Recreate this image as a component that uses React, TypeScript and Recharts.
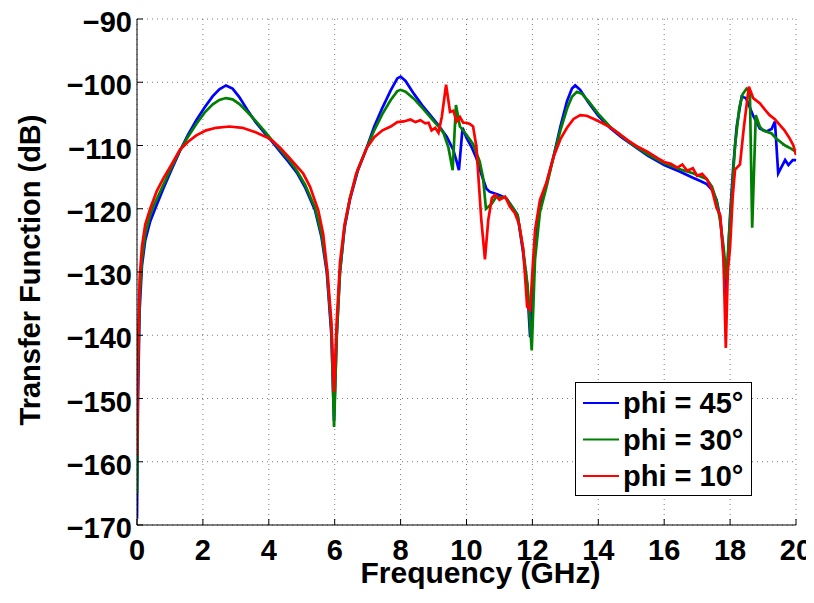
import React from 'react';
import { LineChart, Line, XAxis, YAxis, CartesianGrid, Legend } from 'recharts';

const FONT = '"Liberation Sans", Arial, Helvetica, sans-serif';

const xTicks = [0, 2, 4, 6, 8, 10, 12, 14, 16, 18, 20];
const yTicks = [-170, -160, -150, -140, -130, -120, -110, -100, -90];

const seriesNames = ['phi = 45°', 'phi = 30°', 'phi = 10°'];
const seriesColors = ['#0000ff', '#008000', '#ff0000'];

const blueF = [0, 0.03, 0.08, 0.15, 0.25, 0.4, 0.55, 0.8, 1.05, 1.3, 1.55, 1.8, 2.05, 2.3, 2.5, 2.7, 2.9, 3.1, 3.35, 3.6, 3.85, 4.1, 4.35, 4.6, 4.85, 5.1, 5.4, 5.6, 5.76, 5.9, 5.98, 6.06, 6.16, 6.3, 6.46, 6.7, 6.97, 7.2, 7.45, 7.7, 7.9, 8.0, 8.15, 8.4, 8.65, 8.9, 9.15, 9.4, 9.6, 9.7, 9.77, 9.88, 10.0, 10.15, 10.3, 10.45, 10.6, 10.7, 10.97, 11.2, 11.4, 11.55, 11.72, 11.84, 11.93, 12.0, 12.08, 12.23, 12.43, 12.64, 12.85, 13.05, 13.2, 13.3, 13.45, 13.7, 14.0, 14.35, 14.7, 15.0, 15.5, 16.0, 16.5, 16.87, 17.1, 17.29, 17.45, 17.59, 17.7, 17.8, 17.87, 17.93, 18.0, 18.1, 18.2, 18.35, 18.48, 18.6, 18.7, 18.9, 19.1, 19.26, 19.36, 19.46, 19.55, 19.67, 19.77, 19.9, 20.0];
const blueV = [-169, -150, -136, -129, -125, -122, -120, -116.8, -113.8, -110.9, -108.3, -106, -104, -102.2, -101.1, -100.5, -101, -102.3, -104.4, -106.3, -107.9, -109.4, -111, -112.6, -114.3, -116.6, -120.2, -124.5, -130, -140, -153.5, -140, -130, -123, -118.6, -114, -110.4, -107, -104, -101.3, -99.4, -99.1, -99.8, -101.8, -103.6, -105.2, -106.8, -108.6, -110.7, -112.5, -113.9, -107.2, -108.8, -110.2, -112, -114.5, -116.8, -117.3, -117.8, -118.3, -119.8, -121, -127, -132, -140.3, -134, -125, -119.5, -116, -111.8, -107, -103, -101, -100.5, -101.2, -103.2, -105.3, -107.2, -108.7, -109.8, -111.6, -113.1, -114.2, -115.1, -115.6, -116.1, -117, -118.6, -121.5, -127, -134.7, -128, -121, -113, -107, -102.3, -102.5, -104, -105.3, -107.3, -107.8, -107.4, -106.2, -114.4, -113.5, -112.3, -113.1, -112.3, -112.3];

const greenF = [0, 0.03, 0.08, 0.15, 0.25, 0.4, 0.5, 0.8, 1.05, 1.3, 1.55, 1.8, 2.05, 2.3, 2.5, 2.7, 2.9, 3.1, 3.35, 3.6, 3.85, 4.1, 4.35, 4.6, 4.85, 5.1, 5.4, 5.6, 5.76, 5.9, 5.98, 6.06, 6.16, 6.3, 6.46, 6.7, 6.97, 7.2, 7.45, 7.7, 7.9, 8.0, 8.15, 8.4, 8.65, 8.9, 9.15, 9.3, 9.45, 9.58, 9.68, 9.8, 10.0, 10.2, 10.4, 10.5, 10.59, 10.77, 10.9, 11.2, 11.4, 11.55, 11.72, 11.85, 11.98, 12.08, 12.23, 12.43, 12.64, 12.85, 13.05, 13.2, 13.35, 13.5, 13.7, 14.0, 14.35, 14.7, 15.0, 15.5, 16.0, 16.5, 16.87, 17.1, 17.29, 17.45, 17.59, 17.7, 17.8, 17.9, 17.97, 18.05, 18.15, 18.28, 18.38, 18.5, 18.6, 18.67, 18.78, 18.9, 19.0, 19.26, 19.4, 19.67, 19.85, 20.0];
const greenV = [-165, -146, -134, -128, -124, -121, -119.6, -116.2, -113.4, -110.8, -108.6, -106.6, -104.8, -103.5, -102.8, -102.5, -102.7, -103.4, -104.7, -106.1, -107.6, -109.2, -110.7, -112.2, -114, -116.2, -119.8, -124, -129.5, -139, -154.5, -140.5, -130, -122.8, -118.3, -113.8, -110.4, -107.6, -105, -102.8, -101.4, -101.2, -101.5, -102.6, -104, -105.5, -107, -108, -110.3, -113.9, -103.6, -107, -108.3, -109.8, -112.5, -115, -120, -119.2, -118.1, -118.3, -119.8, -121, -126.5, -132, -142.4, -128, -120.5, -116.5, -111.8, -107.6, -104.2, -102.3, -101.5, -101.8, -103, -105, -107, -108.5, -109.7, -111.4, -112.8, -113.8, -114.4, -114.9, -115.3, -116.5, -118.8, -122, -126, -131.3, -124, -118, -110, -104, -101.9, -101, -101.4, -123, -105.2, -107, -107.6, -108.1, -108.9, -110, -110.5, -111];

const redF = [0, 0.03, 0.08, 0.15, 0.25, 0.4, 0.6, 0.8, 1.05, 1.3, 1.55, 1.8, 2.1, 2.4, 2.8, 3.2, 3.6, 3.9, 4.1, 4.35, 4.6, 4.8, 5.04, 5.25, 5.5, 5.65, 5.78, 5.9, 5.98, 6.06, 6.16, 6.3, 6.45, 6.65, 6.97, 7.2, 7.45, 7.7, 7.9, 8.1, 8.3, 8.45, 8.6, 8.75, 8.85, 8.94, 9.05, 9.15, 9.25, 9.38, 9.5, 9.6, 9.7, 9.8, 9.9, 10.0, 10.1, 10.2, 10.3, 10.45, 10.56, 10.66, 10.77, 10.87, 11.0, 11.17, 11.32, 11.47, 11.6, 11.72, 11.84, 11.93, 12.0, 12.08, 12.23, 12.43, 12.64, 12.85, 13.05, 13.25, 13.45, 13.65, 13.9, 14.1, 14.35, 14.6, 14.9, 15.2, 15.5, 15.8, 16.0, 16.2, 16.4, 16.55, 16.7, 16.87, 17.0, 17.15, 17.29, 17.45, 17.59, 17.7, 17.8, 17.87, 17.93, 18.0, 18.08, 18.15, 18.3, 18.42, 18.57, 18.7, 18.9, 19.05, 19.2, 19.35, 19.5, 19.65, 19.8, 19.92, 20.0];
const redV = [-159, -143, -131, -126, -122.5, -120, -117.2, -115.2, -113, -110.7, -109.4, -108.4, -107.6, -107.2, -107, -107.2, -107.9, -108.6, -109.2, -110.4, -111.8, -113, -114.4, -116.5, -120.2, -124, -130, -138, -149, -138, -128.5, -122.5, -118.7, -114.5, -110.4, -108.7, -107.6, -107, -106.3, -106.2, -105.9, -106.3, -106, -106.5, -106.4, -107.6, -107.2, -108, -105.5, -100.4, -104.7, -104.5, -106.2, -105.5, -106.4, -106.4, -106.6, -107, -110.2, -121.8, -128, -121.8, -118.3, -117.8, -118.6, -118.1, -119.7, -120.7, -122.5, -126.3, -135.5, -136, -130, -123.4, -118.6, -115.8, -111.8, -109, -107.2, -105.8, -105.2, -105.3, -105.9, -106.4, -107.1, -108, -109.2, -110.2, -111, -112, -112.6, -112.9, -113.5, -113, -114, -113.6, -114.8, -114.5, -115.3, -117, -119.9, -121, -128, -142, -130, -126, -118, -113.8, -113, -107, -100.7, -102.5, -103.3, -104.3, -105.2, -105.8, -106.7, -107.6, -108.8, -110, -111.5];

const toPoints = (f: number[], v: number[]) => f.map((x, i) => ({ f: x, v: v[i] }));

const series = [
  { name: seriesNames[0], color: seriesColors[0], data: toPoints(blueF, blueV) },
  { name: seriesNames[1], color: seriesColors[1], data: toPoints(greenF, greenV) },
  { name: seriesNames[2], color: seriesColors[2], data: toPoints(redF, redV) },
];

const fmt = (v: number) => (v < 0 ? '\u2212' + Math.abs(v) : String(v));

const textStyle = { fontFamily: FONT, fontWeight: 'bold' as const, fill: '#000' };

const LeftTick = (p: any) => (
  <g>
    <line x1={p.x} y1={p.y} x2={p.x + 6} y2={p.y} stroke="#000" strokeWidth={1} />
    <text x={p.x - 5} y={p.y + 13} textAnchor="end" fontSize={29} {...textStyle}>
      {fmt(p.payload.value)}
    </text>
  </g>
);

const BottomTick = (p: any) => (
  <g>
    <line x1={p.x} y1={p.y} x2={p.x} y2={p.y - 6} stroke="#000" strokeWidth={1} />
    <text x={p.x} y={p.y + 35} textAnchor="middle" fontSize={29} {...textStyle}>
      {fmt(p.payload.value)}
    </text>
  </g>
);

const TopTick = (p: any) => (
  <line x1={p.x} y1={p.y} x2={p.x} y2={p.y + 6} stroke="#000" strokeWidth={1} />
);

const RightTick = (p: any) => (
  <line x1={p.x} y1={p.y} x2={p.x - 6} y2={p.y} stroke="#000" strokeWidth={1} />
);

const LegendBox = (props: any) => {
  const payload = [...(props.payload || [])].sort(
    (a: any, b: any) => seriesNames.indexOf(a.value) - seriesNames.indexOf(b.value)
  );
  return (
    <svg width={177} height={114} style={{ display: 'block' }}>
      <rect x={0.5} y={0.5} width={176} height={113} fill="#fff" stroke="#000" strokeWidth={1} />
      {payload.map((item: any, i: number) => {
        const cy = 21 + i * 36.5;
        return (
          <g key={item.value}>
            <line x1={8} y1={cy} x2={44} y2={cy} stroke={item.color} strokeWidth={2} />
            <text x={48} y={cy + 10.4} fontSize={29} {...textStyle}>
              {item.value}
            </text>
          </g>
        );
      })}
    </svg>
  );
};

export default function App() {
  return (
    <LineChart width={806} height={587} margin={{ top: 11, right: 18, bottom: 0, left: 0 }}>
      <CartesianGrid stroke="#7a7a7a" strokeDasharray="1 4" strokeWidth={1} />
      <XAxis
        dataKey="f"
        type="number"
        domain={[0, 20]}
        allowDataOverflow
        ticks={xTicks}
        interval={0}
        height={70}
        tickSize={0}
        tickMargin={0}
        tickLine={false}
        axisLine={{ stroke: '#000', strokeWidth: 1 }}
        tick={BottomTick}
        label={{
          content: (lp: any) => {
            const vb = lp.viewBox || { x: 129, y: 517, width: 659 };
            return (
              <text x={vb.x + vb.width / 2 + 14} y={vb.y + 58} textAnchor="middle" fontSize={30} {...textStyle}>
                Frequency (GHz)
              </text>
            );
          },
        }}
      />
      <XAxis
        xAxisId="top"
        orientation="top"
        type="number"
        domain={[0, 20]}
        allowDataOverflow
        ticks={xTicks}
        interval={0}
        height={0}
        tickSize={0}
        tickMargin={0}
        tickLine={false}
        axisLine={{ stroke: '#000', strokeWidth: 1 }}
        tick={TopTick}
      />
      <YAxis
        type="number"
        domain={[-170, -90]}
        allowDataOverflow
        ticks={yTicks}
        interval={0}
        width={129}
        tickSize={0}
        tickMargin={0}
        tickLine={false}
        axisLine={{ stroke: '#000', strokeWidth: 1 }}
        tick={LeftTick}
        label={{
          content: (lp: any) => {
            const vb = lp.viewBox || { x: 0, y: 11, width: 129, height: 506 };
            const cx = 32;
            const cy = vb.y + vb.height / 2 - 2;
            return (
              <text x={cx} y={cy} transform={`rotate(-90, ${cx}, ${cy})`} textAnchor="middle" fontSize={29} {...textStyle}>
                Transfer Function (dB)
              </text>
            );
          },
        }}
      />
      <YAxis
        yAxisId="right"
        orientation="right"
        type="number"
        domain={[-170, -90]}
        allowDataOverflow
        ticks={yTicks}
        interval={0}
        width={0}
        tickSize={0}
        tickMargin={0}
        tickLine={false}
        axisLine={{ stroke: '#000', strokeWidth: 1 }}
        tick={RightTick}
      />
      {series.map((s) => (
        <Line
          key={s.name}
          data={s.data}
          dataKey="v"
          name={s.name}
          type="linear"
          stroke={s.color}
          strokeWidth={2.7}
          dot={false}
          activeDot={false}
          isAnimationActive={false}
        />
      ))}
      <Legend
        layout="vertical"
        align="center"
        verticalAlign="middle"
        itemSorter={null as any}
        wrapperStyle={{ position: 'absolute', left: 567, top: 374, width: 177, height: 114, margin: 0, padding: 0 }}
        content={(props: any) => <LegendBox payload={props.payload} />}
      />
    </LineChart>
  );
}
